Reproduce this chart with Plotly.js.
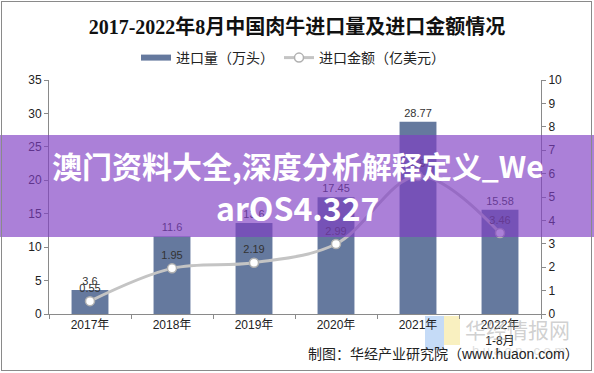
<!DOCTYPE html>
<html>
<head>
<meta charset="utf-8">
<script src="https://cdn.plot.ly/plotly-3.0.1.min.js"></script>
<style>
  html, body { margin: 0; padding: 0; background: #fff; }
  #wrap { position: relative; width: 594px; height: 373px; }
  #chart { width: 594px; height: 373px; }
  #frame { position: absolute; left: 1px; top: 1px; width: 589px; height: 368px; border: 1px solid #8a8a8a; pointer-events: none; }
</style>
</head>
<body>
<div id="wrap"><div id="chart"></div><div id="frame"></div></div>
<script>
const categories = ["2017年", "2018年", "2019年", "2020年", "2021年", "2022年<br>1-8月"];
const importVolume = [3.6, 11.6, 13.6, 17.45, 28.77, 15.58];      // 万头
const importValue = [0.55, 1.95, 2.19, 2.99, 5.9, 3.46];         // 亿美元
const volumeLabels = ["3.6", "11.6", "13.6", "17.45", "28.77", "15.58"];
const valueLabels = ["0.55", "1.95", "2.19", "2.99", "5.9", "3.46"];
const seriesNames = ["进口量（万头）", "进口金额（亿美元）"];
const titleText = "2017-2022年8月中国肉牛进口量及进口金额情况";
const sourceText = "制图：华经产业研究院（www.huaon.com）";
const bannerLines = ["澳门资料大全,深度分析解释定义_We", "arOS4.327"];

const baseFont = "Liberation Sans, Arial, Noto Sans CJK SC, sans-serif";
const barColor = "#65799e";

const bar = {
  type: "bar",
  name: seriesNames[0],
  x: categories,
  y: importVolume,
  yaxis: "y",
  marker: { color: barColor },
  text: volumeLabels,
  textposition: "outside",
  cliponaxis: false,
  textfont: { size: 11, color: "#333" },
  showlegend: false,
  hoverinfo: "skip"
};

// legend entry for the bars (wide flat swatch as in the reference)
const barLegend = {
  type: "scatter",
  name: seriesNames[0],
  x: [null], y: [null],
  mode: "lines",
  line: { color: barColor, width: 6 },
  hoverinfo: "skip"
};

const line = {
  type: "scatter",
  name: seriesNames[1],
  x: categories,
  y: importValue,
  yaxis: "y2",
  mode: "lines+markers+text",
  line: { color: "#c4c4c4", width: 3, shape: "spline" },
  marker: { size: 9, color: "#ffffff", line: { color: "#b0b0b0", width: 1.5 } },
  text: valueLabels,
  textposition: "top center",
  cliponaxis: false,
  textfont: { size: 11, color: "#333" },
  hoverinfo: "skip"
};

const L = 49, R = 53, T = 80, B = 59, W = 594, H = 373;
const pw = W - L - R, ph = H - T - B;
const px = v => (v - L) / pw;
const py = v => (H - B - v) / ph;

const layout = {
  width: W, height: H,
  margin: { l: L, r: R, t: T, b: B, pad: 0 },
  paper_bgcolor: "#ffffff",
  plot_bgcolor: "#ffffff",
  font: { family: baseFont, size: 12, color: "#222" },
  title: {
    text: "<b>" + titleText + "</b>",
    font: { family: "Liberation Serif, Noto Sans CJK SC, serif", size: 20, color: "#111" },
    x: 0.5, xref: "container", xanchor: "center",
    y: 1 - 27 / H, yref: "container", yanchor: "middle"
  },
  showlegend: true,
  legend: {
    orientation: "h",
    x: px(136), xanchor: "left",
    y: py(58), yanchor: "middle",
    font: { size: 14, color: "#222", family: baseFont },
    bgcolor: "rgba(0,0,0,0)",
    itemwidth: 30,
    traceorder: "normal"
  },
  bargap: 0.55,
  xaxis: {
    type: "category",
    showline: true, linecolor: "#8a8a8a", linewidth: 1,
    ticks: "outside", tickson: "boundaries", ticklen: 4, tickcolor: "#8a8a8a",
    tickfont: { size: 12, color: "#222" },
    showgrid: false, zeroline: false, fixedrange: true
  },
  yaxis: {
    range: [0, 35], dtick: 5,
    showline: true, linecolor: "#8a8a8a", linewidth: 1,
    ticks: "outside", ticklen: 4, tickcolor: "#8a8a8a",
    tickfont: { size: 12, color: "#222" },
    showgrid: false, zeroline: false, fixedrange: true
  },
  yaxis2: {
    overlaying: "y", side: "right",
    range: [0, 10], dtick: 1,
    showline: true, linecolor: "#8a8a8a", linewidth: 1,
    ticks: "outside", ticklen: 4, tickcolor: "#8a8a8a",
    tickfont: { size: 12, color: "#222" },
    showgrid: false, zeroline: false, fixedrange: true
  },
  shapes: [
    { type: "rect", xref: "paper", yref: "paper", layer: "below",
      x0: px(425), x1: px(444), y0: py(350), y1: py(316),
      fillcolor: "rgba(150,190,240,0.55)", line: { width: 0 } },
    { type: "rect", xref: "paper", yref: "paper", layer: "below",
      x0: px(444), x1: px(460), y0: py(345), y1: py(316),
      fillcolor: "rgba(245,230,150,0.6)", line: { width: 0 } },
    { type: "rect", xref: "paper", yref: "paper", layer: "above",
      x0: px(0), x1: px(594), y0: py(237), y1: py(135),
      fillcolor: "rgba(128,62,196,0.66)", line: { width: 0 } }
  ],
  annotations: [
    { text: "华经情报网", xref: "paper", yref: "paper", x: px(517), y: py(329),
      xanchor: "center", yanchor: "middle", showarrow: false,
      font: { size: 21, color: "rgba(170,170,170,0.55)", family: "Noto Sans CJK SC" } },
    { text: "h u a o n . c o m", xref: "paper", yref: "paper", x: px(518), y: py(350),
      xanchor: "center", yanchor: "middle", showarrow: false,
      font: { size: 13, color: "rgba(190,190,190,0.5)", family: baseFont } },
    { text: sourceText, xref: "paper", yref: "paper", x: px(581), y: py(354),
      xanchor: "right", yanchor: "middle", showarrow: false,
      font: { size: 14, color: "#222", family: baseFont } },
    { text: "<b>" + bannerLines[0] + "</b>", xref: "paper", yref: "paper", x: px(298), y: py(165),
      xanchor: "center", yanchor: "middle", showarrow: false,
      font: { size: 30, color: "#ffffff", family: "Noto Sans CJK SC, sans-serif" } },
    { text: "<b>" + bannerLines[1] + "</b>", xref: "paper", yref: "paper", x: px(297), y: py(207),
      xanchor: "center", yanchor: "middle", showarrow: false,
      font: { size: 32, color: "#ffffff", family: "Noto Sans CJK SC, sans-serif" } }
  ]
};

Plotly.newPlot("chart", [bar, barLegend, line], layout, { staticPlot: true, displayModeBar: false });
</script>
</body>
</html>
